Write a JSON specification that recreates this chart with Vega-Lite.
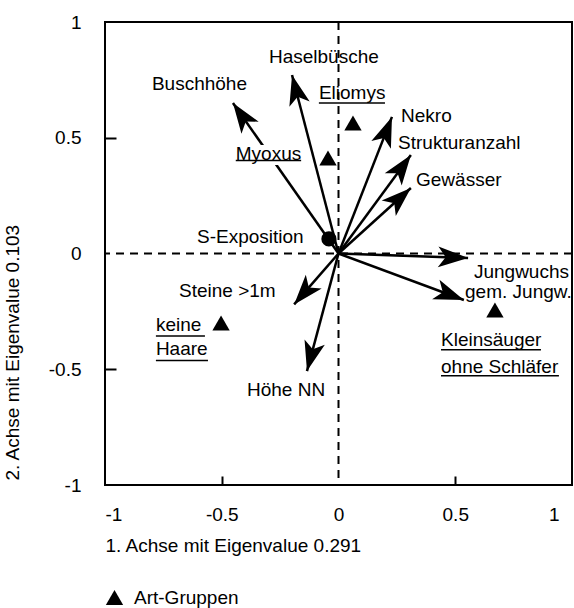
{
  "$schema": "https://vega.github.io/schema/vega-lite/v6.json",
  "width": 467,
  "height": 463,
  "autosize": {"type": "none"},
  "padding": {"left": 105, "top": 22, "right": 2, "bottom": 123},
  "background": "white",
  "config": {
    "font": "Liberation Sans",
    "view": {"stroke": "black", "strokeWidth": 2},
    "axis": {
      "domain": false,
      "grid": false,
      "labelFont": "Liberation Sans",
      "labelFontSize": 19,
      "labelColor": "black",
      "labelOverlap": false,
      "titleFont": "Liberation Sans",
      "titleFontSize": 19,
      "titleFontWeight": "normal",
      "titleColor": "black",
      "tickWidth": 2
    }
  },
  "datasets": {
    "zero": [{"v": 0}],
    "arrows": [
      {"name": "Haselbüsche", "x": -0.199, "y": 0.771},
      {"name": "Buschhöhe", "x": -0.452, "y": 0.65},
      {"name": "Nekro", "x": 0.229, "y": 0.59},
      {"name": "Strukturanzahl", "x": 0.31, "y": 0.425},
      {"name": "Gewässer", "x": 0.31, "y": 0.283},
      {"name": "Jungwuchs", "x": 0.555, "y": -0.019},
      {"name": "gem. Jungw.", "x": 0.537, "y": -0.201},
      {"name": "Steine >1m", "x": -0.19, "y": -0.22},
      {"name": "Höhe NN", "x": -0.135, "y": -0.508}
    ],
    "sexpo": [{"name": "S-Exposition", "x": -0.041, "y": 0.063}],
    "groups": [
      {"group": "Eliomys", "x": 0.062, "y": 0.564},
      {"group": "Myoxus", "x": -0.045, "y": 0.413},
      {"group": "keine Haare", "x": -0.503, "y": -0.3},
      {"group": "Kleinsäuger ohne Schläfer", "x": 0.67, "y": -0.244}
    ],
    "labels": [
      {"label": "Haselbüsche", "x": -0.298, "y": 0.849},
      {"label": "Buschhöhe", "x": -0.799, "y": 0.732},
      {"label": "Eliomys", "x": -0.084, "y": 0.693},
      {"label": "Myoxus", "x": -0.44, "y": 0.43},
      {"label": "Nekro", "x": 0.268, "y": 0.594},
      {"label": "Strukturanzahl", "x": 0.255, "y": 0.477},
      {"label": "Gewässer", "x": 0.332, "y": 0.317},
      {"label": "S-Exposition", "x": -0.606, "y": 0.071},
      {"label": "Jungwuchs", "x": 0.58, "y": -0.08},
      {"label": "gem. Jungw.", "x": 0.542, "y": -0.166},
      {"label": "Kleinsäuger", "x": 0.439, "y": -0.374},
      {"label": "ohne Schläfer", "x": 0.439, "y": -0.49},
      {"label": "Steine >1m", "x": -0.683, "y": -0.162},
      {"label": "keine", "x": -0.782, "y": -0.309},
      {"label": "Haare", "x": -0.782, "y": -0.413},
      {"label": "Höhe NN", "x": -0.392, "y": -0.59}
    ],
    "underlines": [
      {"label": "Eliomys", "x1": -0.084, "x2": 0.199, "y": 0.65},
      {"label": "Myoxus", "x1": -0.44, "x2": -0.16, "y": 0.402},
      {"label": "Kleinsäuger", "x1": 0.439, "x2": 0.867, "y": -0.416},
      {"label": "ohne Schläfer", "x1": 0.439, "x2": 0.944, "y": -0.528},
      {"label": "keine", "x1": -0.782, "x2": -0.572, "y": -0.356},
      {"label": "Haare", "x1": -0.782, "x2": -0.559, "y": -0.462}
    ]
  },
  "layer": [
    {
      "data": {"name": "zero"},
      "mark": {"type": "rule", "color": "black", "strokeWidth": 2, "strokeDash": [8, 6]},
      "encoding": {
        "x": {
          "field": "v",
          "type": "quantitative",
          "scale": {"domain": [-1, 1], "nice": false, "zero": false},
          "axis": {
            "title": "1. Achse mit Eigenvalue 0.291",
            "values": [-1, -0.5, 0, 0.5, 1],
            "format": "~g",
            "labelExpr": "replace(datum.label, '\u2212', '-')",
            "tickSize": -9,
            "labelPadding": 29,
            "tickColor": {"condition": {"test": "abs(datum.value) == 0.5", "value": "black"}, "value": "transparent"},
            "labelOffset": {"condition": {"test": "datum.value == 1", "value": -13}, "value": 0},
            "titleAnchor": "start",
            "titleAlign": "left",
            "titleBaseline": "middle",
            "titleX": 0,
            "titleY": 60
          }
        }
      }
    },
    {
      "data": {"name": "zero"},
      "mark": {"type": "rule", "color": "black", "strokeWidth": 2, "strokeDash": [8, 6]},
      "encoding": {
        "y": {
          "field": "v",
          "type": "quantitative",
          "scale": {"domain": [-1, 1], "nice": false, "zero": false},
          "axis": {
            "title": "2. Achse mit Eigenvalue 0.103",
            "values": [-1, -0.5, 0, 0.5, 1],
            "format": "~g",
            "labelExpr": "replace(datum.label, '\u2212', '-')",
            "tickSize": -11,
            "labelPadding": 35,
            "tickColor": {"condition": {"test": "abs(datum.value) == 0.5", "value": "black"}, "value": "transparent"},
            "titleAngle": 270,
            "titleAlign": "left",
            "titleBaseline": "middle",
            "titleX": -93,
            "titleY": 458
          }
        }
      }
    },
    {
      "data": {"name": "arrows"},
      "mark": {"type": "rule", "color": "black", "strokeWidth": 2.5},
      "encoding": {
        "x": {"field": "x", "type": "quantitative", "scale": {"domain": [-1, 1], "nice": false, "zero": false}},
        "y": {"field": "y", "type": "quantitative", "scale": {"domain": [-1, 1], "nice": false, "zero": false}},
        "x2": {"datum": 0},
        "y2": {"datum": 0}
      }
    },
    {
      "data": {"name": "arrows"},
      "transform": [{"calculate": "atan2(datum.x, datum.y) * 180 / PI", "as": "ang"}],
      "mark": {"type": "point", "shape": "M0,0L0.7,2L0,1.5L-0.7,2Z", "filled": true, "color": "black", "opacity": 1, "size": 900, "strokeWidth": 0},
      "encoding": {
        "x": {"field": "x", "type": "quantitative", "scale": {"domain": [-1, 1], "nice": false, "zero": false}},
        "y": {"field": "y", "type": "quantitative", "scale": {"domain": [-1, 1], "nice": false, "zero": false}},
        "angle": {"field": "ang", "type": "quantitative", "scale": null}
      }
    },
    {
      "data": {"name": "sexpo"},
      "mark": {"type": "point", "shape": "circle", "filled": true, "color": "black", "opacity": 1, "size": 230},
      "encoding": {
        "x": {"field": "x", "type": "quantitative", "scale": {"domain": [-1, 1], "nice": false, "zero": false}},
        "y": {"field": "y", "type": "quantitative", "scale": {"domain": [-1, 1], "nice": false, "zero": false}}
      }
    },
    {
      "data": {"name": "groups"},
      "mark": {"type": "point", "filled": true, "color": "black", "opacity": 1, "size": 300},
      "encoding": {
        "x": {"field": "x", "type": "quantitative", "scale": {"domain": [-1, 1], "nice": false, "zero": false}},
        "y": {"field": "y", "type": "quantitative", "scale": {"domain": [-1, 1], "nice": false, "zero": false}},
        "shape": {
          "datum": "Art-Gruppen",
          "type": "nominal",
          "scale": {"range": ["triangle-up"]},
          "legend": {
            "orient": "none",
            "legendX": 0,
            "legendY": 566,
            "title": null,
            "symbolSize": 300,
            "symbolFillColor": "black",
            "symbolStrokeWidth": 0,
            "labelFont": "Liberation Sans",
            "labelFontSize": 19,
            "labelColor": "black",
            "labelOffset": 10
          }
        }
      }
    },
    {
      "data": {"name": "labels"},
      "transform": [{"filter": "datum.label == 'Myoxus'"}],
      "mark": {"type": "text", "align": "left", "baseline": "middle", "font": "Liberation Sans", "fontSize": 19, "color": "white", "stroke": "white", "strokeWidth": 10},
      "encoding": {
        "x": {"field": "x", "type": "quantitative", "scale": {"domain": [-1, 1], "nice": false, "zero": false}},
        "y": {"field": "y", "type": "quantitative", "scale": {"domain": [-1, 1], "nice": false, "zero": false}},
        "text": {"field": "label"}
      }
    },
    {
      "data": {"name": "labels"},
      "mark": {"type": "text", "align": "left", "baseline": "middle", "font": "Liberation Sans", "fontSize": 19, "color": "black"},
      "encoding": {
        "x": {"field": "x", "type": "quantitative", "scale": {"domain": [-1, 1], "nice": false, "zero": false}},
        "y": {"field": "y", "type": "quantitative", "scale": {"domain": [-1, 1], "nice": false, "zero": false}},
        "text": {"field": "label"}
      }
    },
    {
      "data": {"name": "underlines"},
      "mark": {"type": "rule", "color": "black", "strokeWidth": 1.5},
      "encoding": {
        "x": {"field": "x1", "type": "quantitative", "scale": {"domain": [-1, 1], "nice": false, "zero": false}},
        "x2": {"field": "x2"},
        "y": {"field": "y", "type": "quantitative", "scale": {"domain": [-1, 1], "nice": false, "zero": false}}
      }
    }
  ]
}
